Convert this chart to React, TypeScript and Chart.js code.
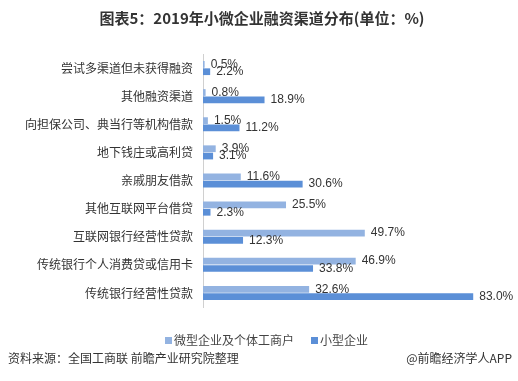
import React, { useEffect, useRef } from "react";
import { Chart, registerables } from "chart.js";

Chart.register(...registerables);

const categories = [
  "尝试多渠道但未获得融资",
  "其他融资渠道",
  "向担保公司、典当行等机构借款",
  "地下钱庄或高利贷",
  "亲戚朋友借款",
  "其他互联网平台借贷",
  "互联网银行经营性贷款",
  "传统银行个人消费贷或信用卡",
  "传统银行经营性贷款",
];
const microValues = [0.5, 0.8, 1.5, 3.9, 11.6, 25.5, 49.7, 46.9, 32.6];
const smallValues = [2.2, 18.9, 11.2, 3.1, 30.6, 2.3, 12.3, 33.8, 83.0];
const seriesNames = ["微型企业及个体工商户", "小型企业"];
const seriesColors = ["#93b3e1", "#5b8fd7"];
const titleText = "图表5：2019年小微企业融资渠道分布(单位：%)";
const sourceText = "资料来源：全国工商联 前瞻产业研究院整理";
const brandText = "@前瞻经济学人APP";

const CJK = '"Noto Sans CJK SC", "Microsoft YaHei", sans-serif';

const decorPlugin = {
  id: "decor",
  afterDraw(chart: any) {
    const ctx = chart.ctx;
    ctx.save();
    // title
    ctx.fillStyle = "#333";
    ctx.font = `bold 15px ${CJK}`;
    ctx.textAlign = "center";
    ctx.textBaseline = "middle";
    ctx.fillText(titleText, 262, 18);

    // value labels
    ctx.font = '12px "Liberation Sans", Arial, sans-serif';
    ctx.textAlign = "left";
    ctx.fillStyle = "#333";
    chart.data.datasets.forEach((ds: any, di: number) => {
      const meta = chart.getDatasetMeta(di);
      meta.data.forEach((bar: any, i: number) => {
        const v = ds.data[i];
        ctx.fillText(v.toFixed(1) + "%", bar.x + 6, bar.y);
      });
    });

    // legend
    ctx.font = `12px ${CJK}`;
    ctx.textBaseline = "middle";
    const legendY = 340;
    const items = [
      { x: 165, name: seriesNames[0], color: seriesColors[0] },
      { x: 311, name: seriesNames[1], color: seriesColors[1] },
    ];
    items.forEach((it) => {
      ctx.fillStyle = it.color;
      ctx.fillRect(it.x, legendY - 3, 7, 7);
      ctx.fillStyle = "#444";
      ctx.fillText(it.name, it.x + 9, legendY);
    });

    // source
    ctx.font = `12px ${CJK}`;
    ctx.fillStyle = "#333";
    ctx.textAlign = "left";
    ctx.fillText(sourceText, 8, 358);
    ctx.textAlign = "right";
    ctx.fillText(brandText, 512, 358);
    ctx.restore();
  },
};

export default function App() {
  const ref = useRef<HTMLCanvasElement>(null);
  useEffect(() => {
    document.body.style.margin = "0";
    const chart = new Chart(ref.current!, {
      type: "bar",
      data: {
        labels: categories,
        datasets: [
          {
            label: seriesNames[0],
            data: microValues,
            backgroundColor: seriesColors[0],
            categoryPercentage: 0.52,
            barPercentage: 0.92,
          },
          {
            label: seriesNames[1],
            data: smallValues,
            backgroundColor: seriesColors[1],
            categoryPercentage: 0.52,
            barPercentage: 0.92,
          },
        ],
      },
      options: {
        indexAxis: "y",
        animation: false,
        responsive: false,
        layout: { padding: { top: 54, bottom: 74, left: 0, right: 22 } },
        plugins: {
          legend: { display: false },
          title: { display: false },
          tooltip: { enabled: false },
        },
        scales: {
          x: {
            display: false,
            min: 0,
            max: 90,
          },
          y: {
            grid: { display: false, drawTicks: false },
            border: { display: true, color: "#d0d0d0" },
            ticks: {
              color: "#333",
              font: { size: 12, family: CJK },
              padding: 10,
            },
            afterFit(scale: any) {
              scale.width = 203;
            },
          },
        },
      },
      plugins: [decorPlugin],
    });
    return () => chart.destroy();
  }, []);
  return <canvas ref={ref} width={518} height={381} style={{ display: "block" }} />;
}
